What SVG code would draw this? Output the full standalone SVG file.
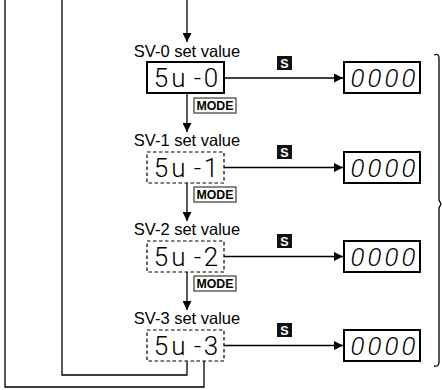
<svg xmlns="http://www.w3.org/2000/svg" width="442" height="390" viewBox="0 0 442 390">
<defs>
<marker id="ah" viewBox="0 0 10 10" refX="10" refY="5" markerWidth="10" markerHeight="9" markerUnits="userSpaceOnUse" orient="auto">
<path d="M0,0 L10,5 L0,10 z" fill="#000"/>
</marker>
<style>
.ln{fill:none;stroke:#000;stroke-width:1.3}
.lab{font-family:"Liberation Sans",Arial,sans-serif;font-size:16.5px;fill:#000;text-anchor:middle}
.seg{font-family:Roboto,"DejaVu Sans",sans-serif;font-size:26px;font-weight:300;fill:#000;text-anchor:middle}
.it{font-style:italic}
.solid{fill:#fff;stroke:#000;stroke-width:2}
.dash{fill:#fff;stroke:#000;stroke-width:1.2;stroke-dasharray:3.5,2.5}
.mode{fill:#fff;stroke:#555;stroke-width:1.4}
.modet{font-family:"Liberation Sans",Arial,sans-serif;font-size:12.5px;font-weight:bold;fill:#000;text-anchor:middle}
.sbox{fill:#111}
.st{font-family:"Liberation Sans",Arial,sans-serif;font-size:12.5px;font-weight:bold;fill:#fff;text-anchor:middle}
</style>
</defs>
<g id="connectors">
<path class="ln" d="M187,0 V42" marker-end="url(#ah)"/>
<path class="ln" d="M187,93 V132" marker-end="url(#ah)"/>
<path class="ln" d="M187,183 V221" marker-end="url(#ah)"/>
<path class="ln" d="M187,272 V310" marker-end="url(#ah)"/>
<path class="ln" d="M224,78 H343" marker-end="url(#ah)"/>
<path class="ln" d="M224,167.5 H343" marker-end="url(#ah)"/>
<path class="ln" d="M224,256.5 H343" marker-end="url(#ah)"/>
<path class="ln" d="M224,345.5 H343" marker-end="url(#ah)"/>
<path class="ln" d="M187,361 V375 H62 V0"/>
<path class="ln" d="M204,361 V387 H5 V0"/>
<path class="ln" d="M434,55 Q439,53 439,58 V200 L441,204 L439,208 V362 Q439,367 434,366"/>
</g>
<g id="sv0">
<text class="lab" x="187" y="57">SV-0 set value</text>
<rect class="solid" x="147" y="62" width="77" height="31"/>
<text class="seg" x="161 178.5 197.5 211" y="87">5u-0</text>
</g>
<g id="mode0">
<rect class="mode" x="194" y="98" width="42" height="15"/>
<text class="modet" x="215" y="110" textLength="37" lengthAdjust="spacingAndGlyphs">MODE</text>
</g>
<g id="sv1">
<text class="lab" x="187" y="146">SV-1 set value</text>
<rect class="dash" x="147" y="152" width="77" height="31"/>
<text class="seg" x="161 178.5 197.5 211" y="176.5">5u-1</text>
</g>
<g id="mode1">
<rect class="mode" x="194" y="187" width="42" height="15"/>
<text class="modet" x="215" y="199" textLength="37" lengthAdjust="spacingAndGlyphs">MODE</text>
</g>
<g id="sv2">
<text class="lab" x="187" y="235">SV-2 set value</text>
<rect class="dash" x="147" y="241" width="77" height="31"/>
<text class="seg" x="161 178.5 197.5 211" y="265.5">5u-2</text>
</g>
<g id="mode2">
<rect class="mode" x="194" y="276" width="42" height="15"/>
<text class="modet" x="215" y="288" textLength="37" lengthAdjust="spacingAndGlyphs">MODE</text>
</g>
<g id="sv3">
<text class="lab" x="187" y="324">SV-3 set value</text>
<rect class="dash" x="147" y="330" width="77" height="31"/>
<text class="seg" x="161 178.5 197.5 211" y="354.5">5u-3</text>
</g>
<g id="s0"><rect class="sbox" x="277" y="56" width="15" height="14"/><text class="st" x="284.5" y="67.5">S</text></g>
<g id="s1"><rect class="sbox" x="277" y="145" width="15" height="14"/><text class="st" x="284.5" y="156.5">S</text></g>
<g id="s2"><rect class="sbox" x="277" y="234" width="15" height="14"/><text class="st" x="284.5" y="245.5">S</text></g>
<g id="s3"><rect class="sbox" x="277" y="323" width="15" height="14"/><text class="st" x="284.5" y="334.5">S</text></g>
<g id="out0"><rect class="solid" x="344" y="62" width="76" height="31"/><text class="seg it" x="357.5 374.5 391.5 408.5" y="87">0000</text></g>
<g id="out1"><rect class="solid" x="344" y="152" width="76" height="31"/><text class="seg it" x="357.5 374.5 391.5 408.5" y="176.5">0000</text></g>
<g id="out2"><rect class="solid" x="344" y="241" width="76" height="31"/><text class="seg it" x="357.5 374.5 391.5 408.5" y="265.5">0000</text></g>
<g id="out3"><rect class="solid" x="344" y="330" width="76" height="31"/><text class="seg it" x="357.5 374.5 391.5 408.5" y="354.5">0000</text></g>
</svg>
